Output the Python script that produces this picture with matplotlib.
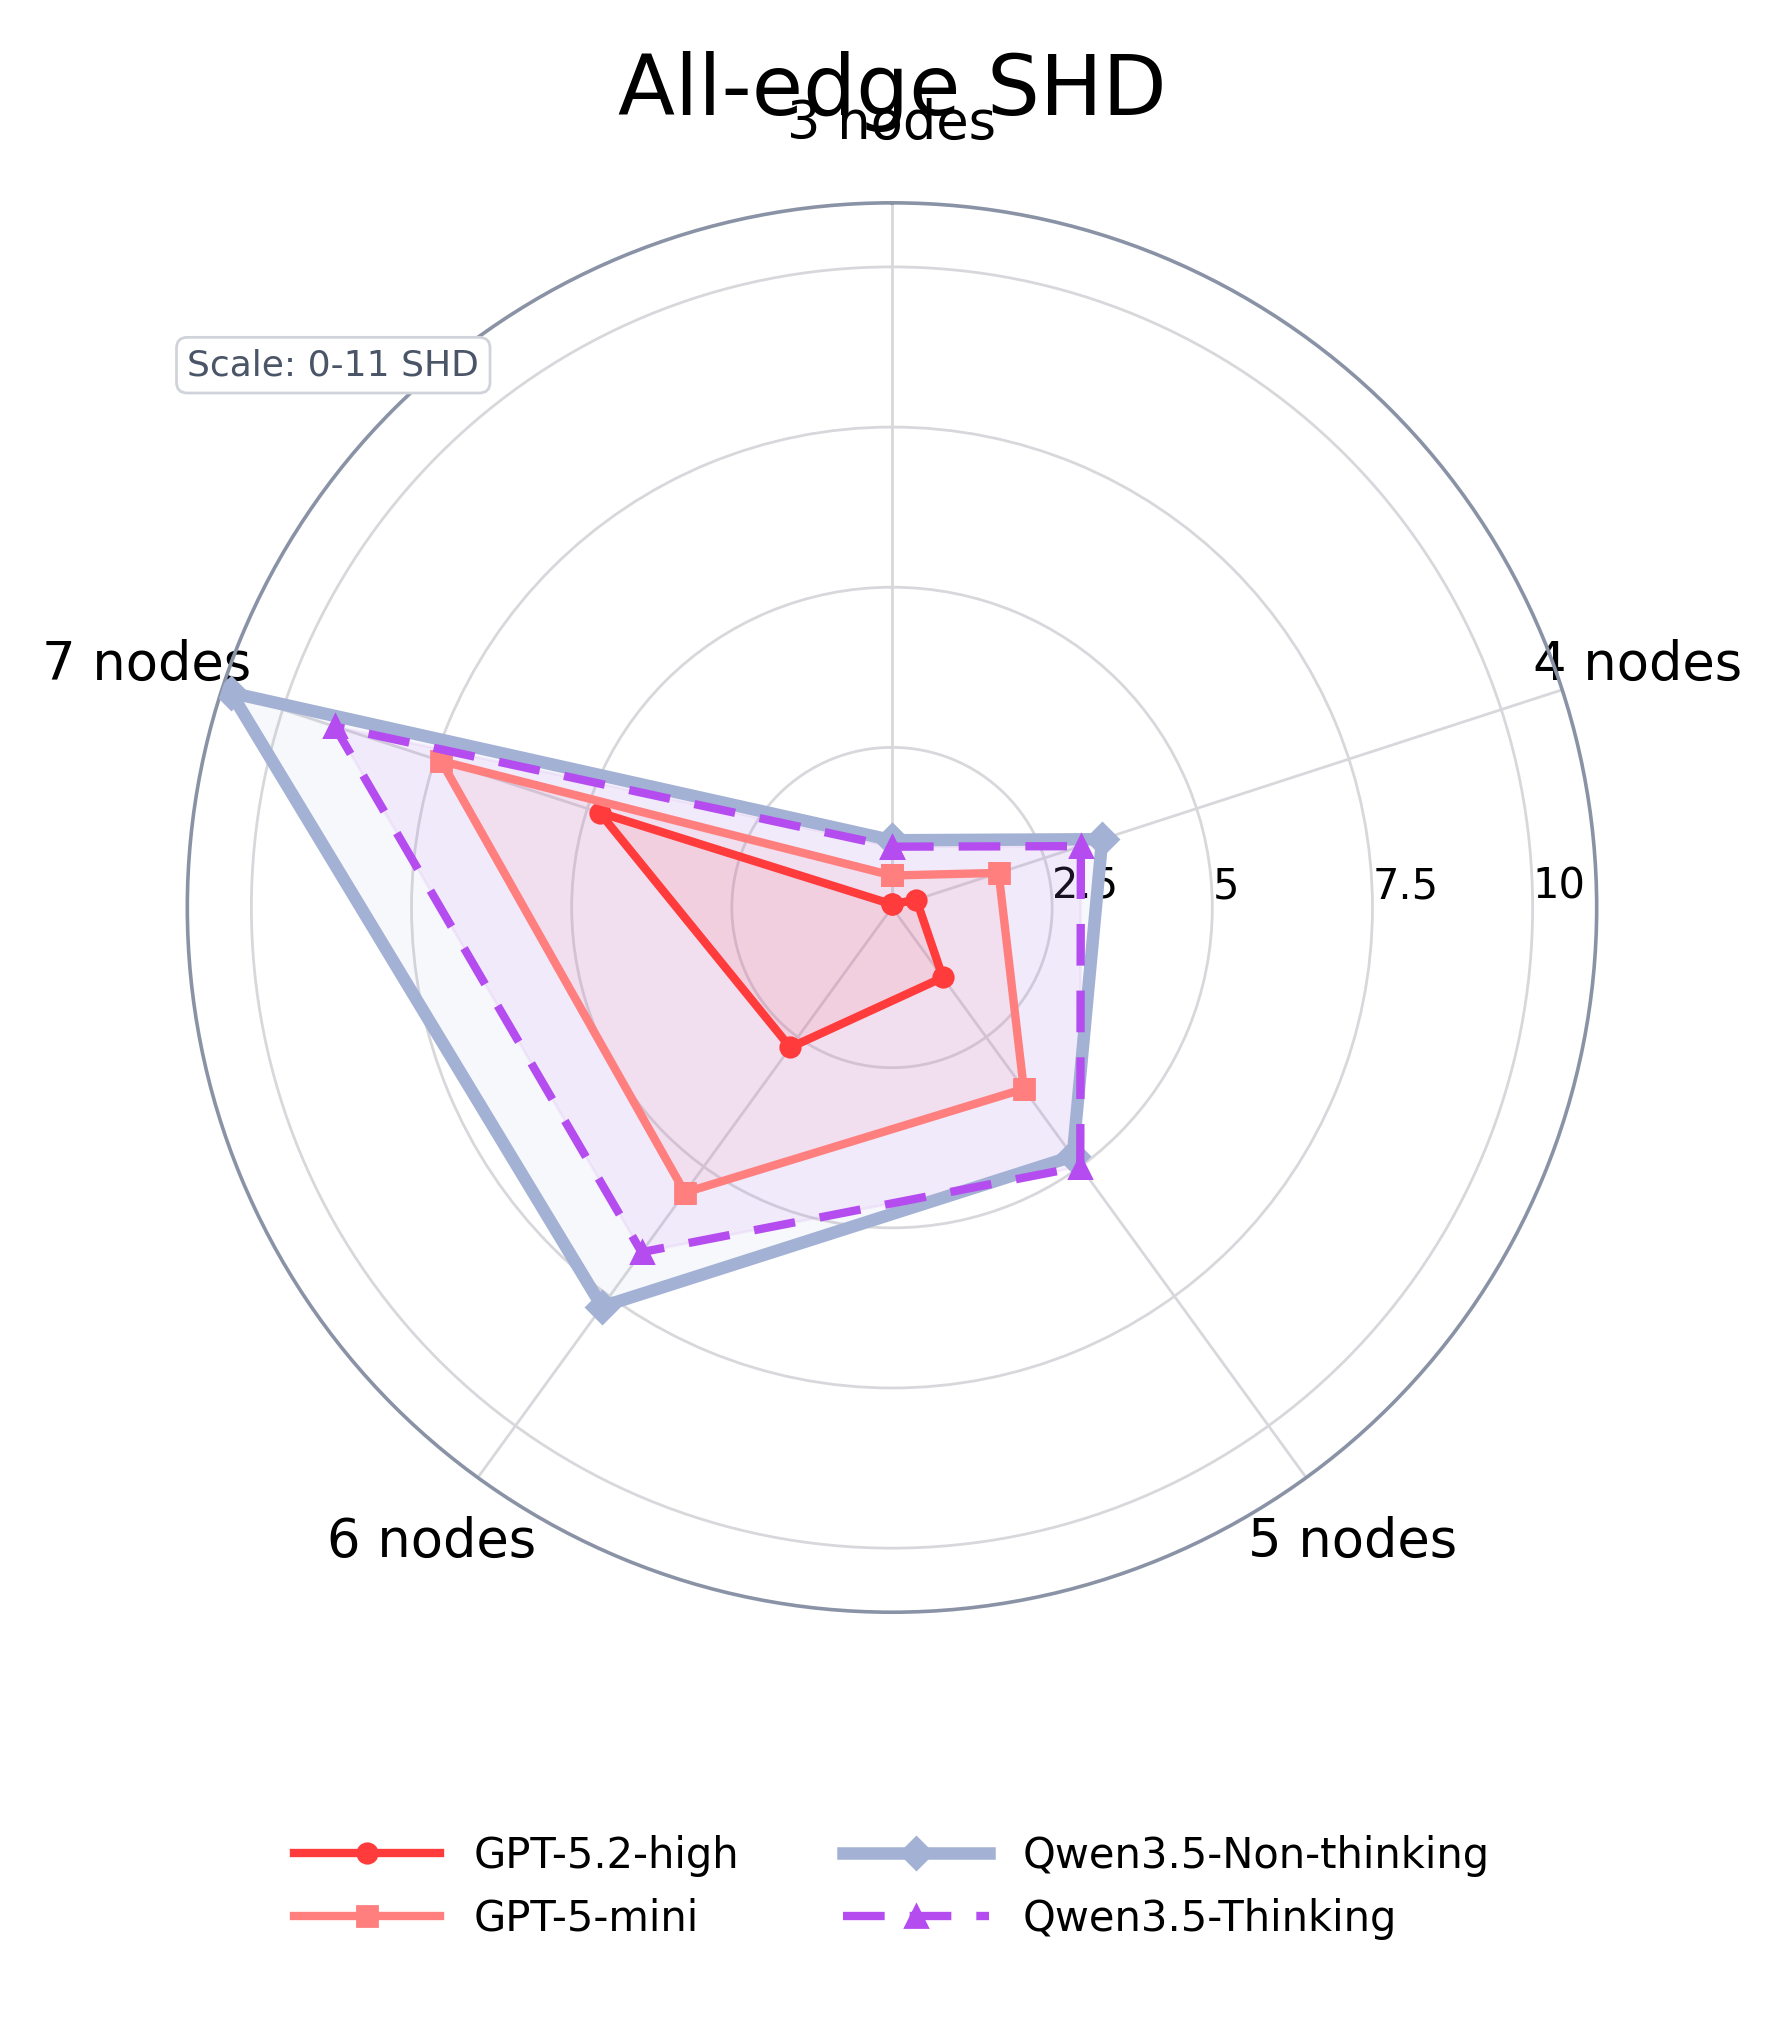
import numpy as np
import matplotlib.pyplot as plt

categories = ["3 nodes", "4 nodes", "5 nodes", "6 nodes", "7 nodes"]
gpt52_high = [0.05, 0.4, 1.35, 2.7, 4.8]
gpt5_mini = [0.5, 1.75, 3.5, 5.5, 7.4]
qwen_nonthink = [1.05, 3.45, 4.8, 7.7, 10.85]
qwen_think = [0.95, 3.1, 5.0, 6.65, 9.15]

series = [
    ("GPT-5.2-high", gpt52_high, dict(color="#ff3b3b", marker="o", lw=3, ms=7, ls="-"), 0.10),
    ("GPT-5-mini", gpt5_mini, dict(color="#ff7f7f", marker="s", lw=3, ms=7, ls="-"), 0.10),
    ("Qwen3.5-Non-thinking", qwen_nonthink, dict(color="#a3b1d4", marker="D", lw=4.5, ms=8, ls="-"), 0.08),
    ("Qwen3.5-Thinking", qwen_think, dict(color="#b44cf0", marker="^", lw=3, ms=8, ls=(0, (5, 3))), 0.08),
]

n = len(categories)
angles = [2 * np.pi * i / n for i in range(n)]
angles_c = angles + angles[:1]

fig = plt.figure(figsize=(8.92, 10.14), dpi=200)
ax = fig.add_axes([0.105, 0.205, 0.79, 0.695], projection="polar")
ax.set_theta_offset(np.pi / 2)
ax.set_theta_direction(-1)

for label, vals, style, alpha in series:
    v = vals + vals[:1]
    ax.fill(angles_c, v, color=style["color"], alpha=alpha, zorder=2)
    ax.plot(angles_c, v, label=label, zorder=3, **style)

ax.set_ylim(0, 11)
ax.set_yticks([2.5, 5, 7.5, 10])
ax.set_yticklabels(["2.5", "5", "7.5", "10"])
ax.tick_params(axis="y", labelsize=15)
ax.set_rlabel_position(90)
ax.set_xticks(angles)
ax.set_xticklabels(categories, fontsize=19)
ax.tick_params(axis="x", pad=18)
ax.grid(color="#d8d8dc", lw=1)
ax.spines["polar"].set_color("#8a93a6")
ax.spines["polar"].set_linewidth(1.3)

fig.suptitle("All-edge SHD", fontsize=30, y=0.975)
fig.text(0.105, 0.815, "Scale: 0-11 SHD", fontsize=13, color="#4a5568",
         bbox=dict(boxstyle="round,pad=0.3", fc="white", ec="#d0d4da"))

fig.legend(loc="lower center", ncol=2, bbox_to_anchor=(0.5, 0.025), frameon=False,
           fontsize=15, handlelength=3.5, columnspacing=2.5)

fig.savefig("out.png", dpi=200)
